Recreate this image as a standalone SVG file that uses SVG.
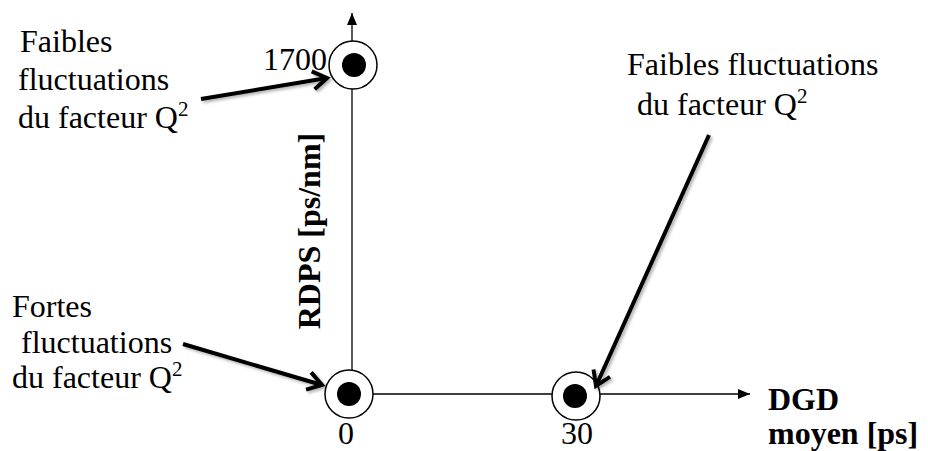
<svg xmlns="http://www.w3.org/2000/svg" width="928" height="451" viewBox="0 0 928 451">
  <style>
    text { font-family: 'Times New Roman', 'Liberation Serif', 'Nimbus Roman', serif; font-size: 32px; fill: #000; }
    .b { font-weight: bold; }
    .sup { font-size: 21px; }
    .axis { stroke: #000; stroke-width: 1.3; fill: none; }
    .ring { stroke: #000; stroke-width: 1.5; fill: #fff; }
    .dot { fill: #000; }
    .call { stroke: #000; stroke-width: 4; fill: none; }
  </style>
  <defs>
    <marker id="tri" markerUnits="userSpaceOnUse" markerWidth="14" markerHeight="12" refX="12" refY="5" orient="auto">
      <path d="M0,0 L12,5 L0,10 z" fill="#000"/>
    </marker>
    <marker id="chev" markerUnits="userSpaceOnUse" markerWidth="24" markerHeight="24" refX="17" refY="11" orient="auto" overflow="visible">
      <path d="M3,2 L17,11 L3,20" stroke="#000" stroke-width="4" fill="none" stroke-linejoin="miter"/>
    </marker>
    <filter id="sh" x="-20%" y="-20%" width="140%" height="140%">
      <feDropShadow dx="2" dy="2" stdDeviation="1.5" flood-color="#000" flood-opacity="0.3"/>
    </filter>
  </defs>

  <g id="connectors">
    <line class="axis" x1="352" y1="394" x2="352" y2="13" marker-end="url(#tri)"/>
    <line class="axis" x1="349" y1="394" x2="750" y2="394" marker-end="url(#tri)"/>
  </g>

  <g id="labels">
    <text x="263" y="70">1700</text>
    <text x="346" y="444" text-anchor="middle">0</text>
    <text x="577" y="444" text-anchor="middle">30</text>
    <text class="b" transform="translate(320,231) rotate(-90)" text-anchor="middle">RDPS [ps/nm]</text>
    <text class="b" x="768" y="410">DGD</text>
    <text class="b" x="768" y="444">moyen [ps]</text>
  </g>

  <g id="node-1700">
    <circle class="ring" cx="353" cy="65" r="24"/>
    <circle class="dot" cx="354" cy="65" r="12"/>
  </g>
  <g id="node-origin">
    <circle class="ring" cx="349" cy="394" r="24"/>
    <circle class="dot" cx="349" cy="394" r="12"/>
  </g>
  <g id="node-30">
    <circle class="ring" cx="576" cy="396" r="24"/>
    <circle class="dot" cx="575" cy="396" r="12"/>
  </g>

  <g id="note-top-left">
    <text x="20" y="52">Faibles</text>
    <text x="18" y="90">fluctuations</text>
    <text x="18" y="128">du facteur Q<tspan class="sup" dy="-12">2</tspan></text>
  </g>
  <g id="note-bottom-left">
    <text x="12" y="317">Fortes</text>
    <text x="21" y="353">fluctuations</text>
    <text x="12" y="388">du facteur Q<tspan class="sup" dy="-12">2</tspan></text>
  </g>
  <g id="note-top-right">
    <text x="627" y="75">Faibles fluctuations</text>
    <text x="637" y="115">du facteur Q<tspan class="sup" dy="-12">2</tspan></text>
  </g>

  <g id="callouts" filter="url(#sh)">
    <line class="call" x1="201" y1="99" x2="327" y2="78" marker-end="url(#chev)"/>
    <line class="call" x1="183" y1="344" x2="322" y2="385" marker-end="url(#chev)"/>
    <line class="call" x1="709" y1="135" x2="596" y2="386" marker-end="url(#chev)"/>
  </g>
</svg>
